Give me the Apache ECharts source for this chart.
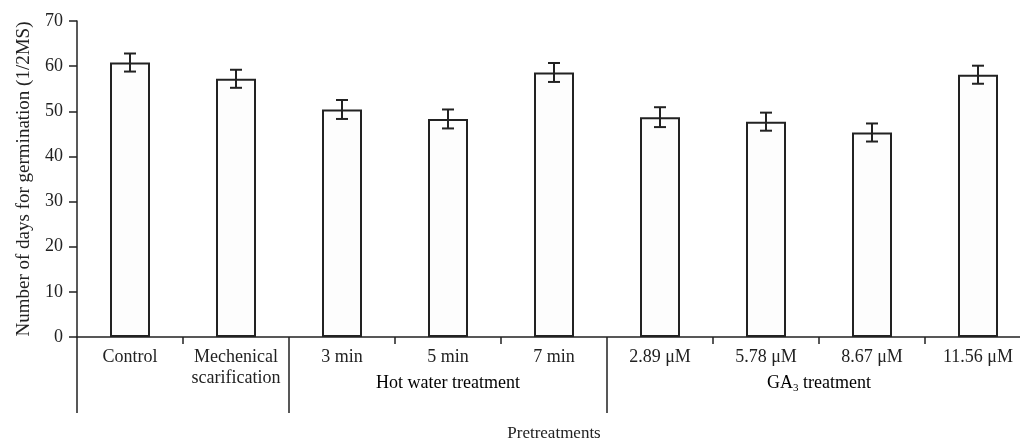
<!DOCTYPE html>
<html><head><meta charset="utf-8">
<script src="https://cdn.jsdelivr.net/npm/echarts@6/dist/echarts.min.js"></script>
<style>html,body{margin:0;padding:0;background:#fff}#c{width:1020px;height:439px}</style>
</head><body><div id="c"></div>
<script>
const categories = ['Control', 'Mechenical\nscarification', '3 min', '5 min', '7 min', '2.89 μM', '5.78 μM', '8.67 μM', '11.56 μM'];
const values = [60.8, 57.2, 50.4, 48.3, 58.6, 48.7, 47.7, 45.3, 58.1];
const errors = [2.0, 2.0, 2.1, 2.1, 2.1, 2.2, 2.0, 2.0, 2.0];
const yTicks = [0, 10, 20, 30, 40, 50, 60, 70];
const groups = [
  {label: '{a|Hot water treatment}', from: 2, to: 4},
  {label: '{a|GA}{s|3}{a| treatment}', from: 5, to: 8}
];
const dividerIdx = [0, 2, 5];

const FONT = '"Liberation Serif", "Times New Roman", serif';
const INK = '#222';
const chart = echarts.init(document.getElementById('c'), null, {renderer: 'canvas'});

const option = {
  animation: false,
  backgroundColor: '#fff',
  grid: {left: 77, right: -11, top: 21, bottom: 102, containLabel: false, outerBoundsMode: 'none'},
  xAxis: [{
    type: 'category', data: categories, position: 'bottom',
    axisLine: {lineStyle: {color: INK, width: 1.5}},
    axisTick: {show: true, length: 7, lineStyle: {color: INK, width: 1.5},
      interval: (i) => dividerIdx.indexOf(i) < 0},
    axisLabel: {color: '#222', fontFamily: FONT, fontSize: 18, margin: 10, lineHeight: 21, interval: 0},
    name: 'Pretreatments', nameLocation: 'middle', nameGap: 88,
    nameTextStyle: {color: '#222', fontFamily: FONT, fontSize: 17}
  }, {
    type: 'category', data: categories, position: 'bottom',
    axisLine: {show: false},
    axisTick: {show: true, length: 76, lineStyle: {color: INK, width: 1.5},
      interval: (i) => dividerIdx.indexOf(i) >= 0},
    axisLabel: {show: false}
  }],
  yAxis: {
    type: 'value', min: 0, max: 70, interval: 10,
    axisLine: {show: true, lineStyle: {color: INK, width: 1.5}},
    axisTick: {show: true, length: 8, lineStyle: {color: INK, width: 1.5}},
    axisLabel: {color: '#222', fontFamily: FONT, fontSize: 18, margin: 14,
      formatter: (v) => yTicks.indexOf(v) >= 0 ? String(v) : ''},
    splitLine: {show: false},
    name: 'Number of days for germination (1/2MS)', nameLocation: 'middle', nameGap: 43,
    nameTextStyle: {color: '#222', fontFamily: FONT, fontSize: 19}
  },
  series: [{
    type: 'bar', data: values, barWidth: 40,
    itemStyle: {color: '#fdfdfd', borderColor: INK, borderWidth: 2}
  }, {
    type: 'custom',
    data: values.map((v, i) => [i, v - errors[i], v + errors[i]]),
    renderItem: (params, api) => {
      const lo = api.coord([api.value(0), api.value(1)]);
      const hi = api.coord([api.value(0), api.value(2)]);
      const hw = 6;
      const st = {stroke: INK, lineWidth: 2};
      return {type: 'group', children: [
        {type: 'line', shape: {x1: lo[0], y1: lo[1], x2: hi[0], y2: hi[1]}, style: st},
        {type: 'line', shape: {x1: lo[0]-hw, y1: lo[1], x2: lo[0]+hw, y2: lo[1]}, style: st},
        {type: 'line', shape: {x1: hi[0]-hw, y1: hi[1], x2: hi[0]+hw, y2: hi[1]}, style: st}
      ]};
    },
    z: 5
  }]
};
chart.setOption(option);

// group labels placed via the axis scale
const y0 = chart.convertToPixel({yAxisIndex: 0}, 0);
const gfx = groups.map(g => {
  const a = chart.convertToPixel({xAxisIndex: 0}, g.from);
  const b = chart.convertToPixel({xAxisIndex: 0}, g.to);
  return {
    type: 'text', x: (a + b) / 2, y: y0 + 46,
    style: {text: g.label, align: 'center', verticalAlign: 'middle',
      rich: {
        a: {fontFamily: FONT, fontSize: 18, color: '#222', lineHeight: 21},
        s: {fontFamily: FONT, fontSize: 11, color: '#222', lineHeight: 11, verticalAlign: 'bottom'}
      }}
  };
});
chart.setOption({graphic: gfx});
</script>
</body></html>
